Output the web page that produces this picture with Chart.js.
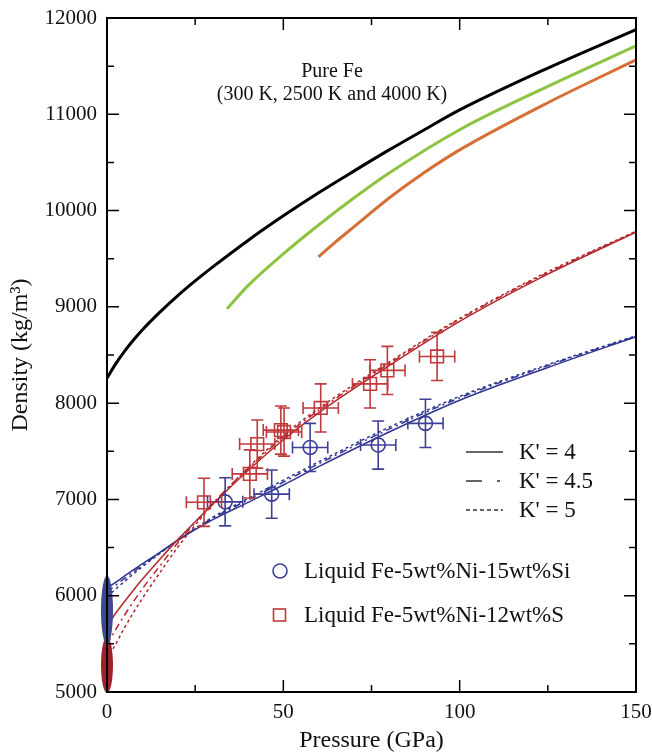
<!DOCTYPE html>
<html lang="en">
<head>
<meta charset="UTF-8">
<title>Density vs Pressure - Fe alloys</title>
<script src="https://cdn.jsdelivr.net/npm/chart.js"></script>
<style>
  html, body { margin: 0; padding: 0; background: #fff; }
  #wrap { width: 652px; height: 755px; }
</style>
</head>
<body>
<div id="wrap"><canvas id="densityChart"></canvas></div>
<script>
// Pure Fe curves (300 K, 2500 K, 4000 K)
const feP300 = [0, 2.5, 5, 7.5, 10, 15, 20, 25, 30, 40, 50, 60, 70, 80, 90, 100, 125, 150];
const feRho300 = [8260, 8410, 8540, 8655, 8760, 8945, 9115, 9270, 9415, 9690, 9945, 10185, 10410, 10630, 10840, 11045, 11480, 11880];
const feP2500 = [34, 40, 50, 60, 70, 80, 100, 125, 150];
const feRho2500 = [8980, 9220, 9550, 9850, 10130, 10390, 10840, 11290, 11710];
const feP4000 = [60, 65, 70, 80, 90, 100, 125, 150];
const feRho4000 = [9520, 9680, 9830, 10130, 10395, 10630, 11120, 11565];

// EOS fits for the liquids, K' = 4, 4.5, 5
const fitP = [0, 2.5, 5, 10, 15, 20, 30, 40, 50, 60, 80, 100, 125, 150];
const sRhoK4 = [5680, 5820, 5940, 6170, 6380, 6580, 6950, 7300, 7620, 7900, 8390, 8850, 9340, 9775];
const sRhoK45 = [5490, 5650, 5800, 6070, 6310, 6545, 6960, 7320, 7645, 7925, 8410, 8870, 9355, 9780];
const sRhoK5 = [5340, 5500, 5670, 5970, 6240, 6500, 6950, 7330, 7665, 7945, 8425, 8880, 9365, 9785];
const siRhoK4 = [6080, 6140, 6205, 6330, 6450, 6575, 6790, 6970, 7150, 7340, 7700, 8030, 8370, 8690];
const siRhoK45 = [6040, 6110, 6180, 6315, 6445, 6575, 6805, 6995, 7180, 7370, 7730, 8055, 8390, 8695];
const siRhoK5 = [5990, 6070, 6150, 6300, 6440, 6575, 6815, 7010, 7200, 7390, 7750, 8070, 8400, 8700];

// measurements
const siP = [33.5, 46.7, 57.6, 76.9, 90.3];
const siRho = [6975, 7055, 7540, 7565, 7790];
const siPErr = [5, 5, 5, 5, 5];
const siRhoErr = [250, 250, 250, 250, 250];
const sP = [27.5, 40.5, 42.6, 49.3, 50.2, 60.6, 74.6, 79.5, 93.6];
const sRho = [6970, 7265, 7575, 7720, 7700, 7950, 8200, 8340, 8485];
const sPErr = [5, 5, 5, 5, 5, 5, 5, 5, 5];
const sRhoErr = [250, 250, 250, 250, 250, 250, 250, 250, 250];

// ambient pressure density ranges (ellipses at P = 0): S first, Si on top
const ambRho = [5280, 5850];
const ambRhoHalf = [290, 360];

const xTicks = [0, 50, 100, 150];
const serif = '"Liberation Serif", "Times New Roman", serif';

const RED = '#b3272c';
const BLUE = '#2f3590';

function pts(xs, ys) {
    return xs.map((x, i) => ({ x: x, y: ys[i] }));
}

function curve(xs, ys, color, width, dash) {
    return {
        type: 'line',
        data: pts(xs, ys),
        borderColor: color,
        borderWidth: width,
        borderDash: dash || [],
        pointRadius: 0,
        fill: false,
        cubicInterpolationMode: 'monotone'
    };
}

const DASH45 = [7, 4, 2, 4];
const DASH5 = [3, 3];

// error bars, ellipses, frame ticks, legend and label
const decor = {
    id: 'decor',
    afterDatasetsDraw(chart) {
        const ctx = chart.ctx;
        const xs = chart.scales.x, ys = chart.scales.y;
        const area = chart.chartArea;

        // error bars
        chart.data.datasets.forEach(ds => {
            if (!ds.errX) return;
            ctx.save();
            ctx.strokeStyle = ds.borderColor;
            ctx.lineWidth = 1.6;
            ds.data.forEach((p, i) => {
                const cx = xs.getPixelForValue(p.x), cy = ys.getPixelForValue(p.y);
                const x0 = xs.getPixelForValue(p.x - ds.errX[i]), x1 = xs.getPixelForValue(p.x + ds.errX[i]);
                const y0 = ys.getPixelForValue(p.y - ds.errY[i]), y1 = ys.getPixelForValue(p.y + ds.errY[i]);
                const c = 6;
                ctx.beginPath();
                ctx.moveTo(x0, cy); ctx.lineTo(x1, cy);
                ctx.moveTo(x0, cy - c); ctx.lineTo(x0, cy + c);
                ctx.moveTo(x1, cy - c); ctx.lineTo(x1, cy + c);
                ctx.moveTo(cx, y0); ctx.lineTo(cx, y1);
                ctx.moveTo(cx - c, y0); ctx.lineTo(cx + c, y0);
                ctx.moveTo(cx - c, y1); ctx.lineTo(cx + c, y1);
                ctx.stroke();
            });
            ctx.restore();
        });

        // ellipses at zero pressure
        const ellColors = ['#9c2428', '#3b4a8e'];
        ambRho.forEach((r, i) => {
            const cx = xs.getPixelForValue(0);
            const cy = ys.getPixelForValue(r);
            const ry = Math.abs(ys.getPixelForValue(r + ambRhoHalf[i]) - cy);
            ctx.save();
            ctx.fillStyle = ellColors[i];
            ctx.beginPath();
            ctx.ellipse(cx, cy, 6, ry, 0, 0, Math.PI * 2);
            ctx.fill();
            ctx.restore();
        });

        // frame with inward ticks on all four sides
        ctx.save();
        ctx.strokeStyle = '#000';
        ctx.lineWidth = 2;
        ctx.strokeRect(area.left, area.top, area.right - area.left, area.bottom - area.top);
        ctx.lineWidth = 1.5;
        ctx.beginPath();
        for (let v = xs.min; v <= xs.max; v += 25) {
            const px = xs.getPixelForValue(v);
            const len = v % 50 === 0 ? 12 : 7;
            ctx.moveTo(px, area.bottom); ctx.lineTo(px, area.bottom - len);
            ctx.moveTo(px, area.top); ctx.lineTo(px, area.top + len);
        }
        for (let v = ys.min; v <= ys.max; v += 500) {
            const py = ys.getPixelForValue(v);
            const len = v % 1000 === 0 ? 12 : 7;
            ctx.moveTo(area.left, py); ctx.lineTo(area.left + len, py);
            ctx.moveTo(area.right, py); ctx.lineTo(area.right - len, py);
        }
        ctx.stroke();
        ctx.restore();

        // annotation
        ctx.save();
        ctx.fillStyle = '#111';
        ctx.font = '20px ' + serif;
        ctx.textAlign = 'center';
        ctx.textBaseline = 'middle';
        ctx.fillText('Pure Fe', 332, 72);
        ctx.fillText('(300 K, 2500 K and 4000 K)', 332, 95);

        // K' legend
        const kItems = [
            { label: "K' = 4", dash: [] },
            { label: "K' = 4.5", dash: [16, 15, 3, 30] },
            { label: "K' = 5", dash: [4, 3] }
        ];
        const ky = [452, 481, 510];
        ctx.font = '23px ' + serif;
        ctx.textAlign = 'left';
        kItems.forEach((it, i) => {
            ctx.strokeStyle = '#333';
            ctx.lineWidth = 1.6;
            ctx.setLineDash(it.dash);
            ctx.beginPath();
            ctx.moveTo(466, ky[i]);
            ctx.lineTo(503, ky[i]);
            ctx.stroke();
            ctx.setLineDash([]);
            ctx.fillStyle = '#111';
            ctx.fillText(it.label, 519, ky[i] + 1);
        });

        // sample legend
        ctx.lineWidth = 1.6;
        ctx.strokeStyle = '#3e3f98';
        ctx.beginPath();
        ctx.arc(280, 571, 7, 0, Math.PI * 2);
        ctx.stroke();
        ctx.strokeStyle = '#c0393b';
        ctx.strokeRect(273.5, 609, 12, 12);
        ctx.fillStyle = '#111';
        ctx.fillText('Liquid Fe-5wt%Ni-15wt%Si', 304, 572);
        ctx.fillText('Liquid Fe-5wt%Ni-12wt%S', 304, 616);
        ctx.restore();
    }
};

const datasets = [
    curve(feP300, feRho300, '#000000', 3),
    curve(feP2500, feRho2500, '#8cc43f', 3),
    curve(feP4000, feRho4000, '#d56f35', 3),
    curve(fitP, sRhoK4, RED, 1.5),
    curve(fitP, sRhoK45, RED, 1.5, DASH45),
    curve(fitP, sRhoK5, RED, 1.5, DASH5),
    curve(fitP, siRhoK4, BLUE, 1.5),
    curve(fitP, siRhoK45, BLUE, 1.5, DASH45),
    curve(fitP, siRhoK5, BLUE, 1.5, DASH5),
    {
        type: 'scatter',
        data: pts(siP, siRho),
        errX: siPErr, errY: siRhoErr,
        pointStyle: 'circle',
        pointRadius: 7,
        borderColor: '#3e3f98',
        backgroundColor: 'rgba(0,0,0,0)',
        borderWidth: 1.6
    },
    {
        type: 'scatter',
        data: pts(sP, sRho),
        errX: sPErr, errY: sRhoErr,
        pointStyle: 'rect',
        pointRadius: 9,
        borderColor: '#c0393b',
        backgroundColor: 'rgba(0,0,0,0)',
        borderWidth: 1.6
    }
];

new Chart(document.getElementById('densityChart'), {
    type: 'line',
    data: { datasets: datasets },
    options: {
        responsive: true,
        maintainAspectRatio: false,
        animation: false,
        layout: { padding: { top: 18, right: 16, left: 0, bottom: 0 } },
        plugins: {
            legend: { display: false },
            tooltip: { enabled: false }
        },
        scales: {
            x: {
                type: 'linear',
                min: 0,
                max: 150,
                afterBuildTicks: s => { s.ticks = xTicks.map(v => ({ value: v })); },
                afterFit: s => { s.height = 63; s.paddingLeft = 0; s.paddingRight = 0; },
                grid: { display: false, drawTicks: false },
                border: { display: false },
                ticks: { color: '#111', font: { family: serif, size: 21 }, padding: 8, maxRotation: 0, callback: v => String(v) },
                title: { display: true, text: 'Pressure (GPa)', color: '#111', font: { family: serif, size: 24 }, padding: { top: 0, bottom: 0 } }
            },
            y: {
                min: 5000,
                max: 12000,
                afterFit: s => { s.width = 107; s.paddingTop = 0; s.paddingBottom = 0; },
                grid: { display: false, drawTicks: false },
                border: { display: false },
                ticks: { stepSize: 1000, color: '#111', font: { family: serif, size: 21 }, padding: 10, callback: v => String(v) },
                title: { display: true, text: 'Density (kg/m³)', color: '#111', font: { family: serif, size: 24 }, padding: { top: 6, bottom: 0 } }
            }
        }
    },
    plugins: [decor]
});
</script>
</body>
</html>
